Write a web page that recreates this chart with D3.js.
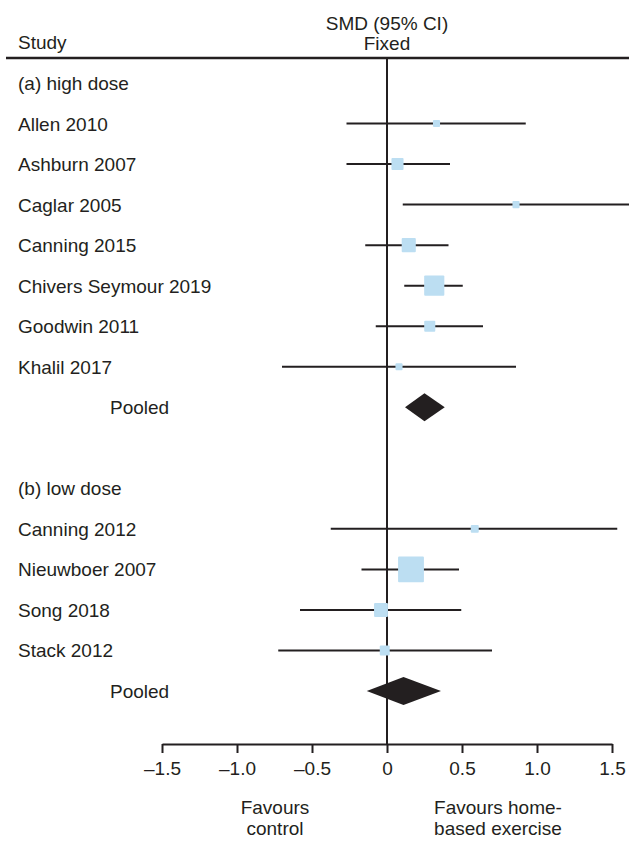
<!DOCTYPE html>
<html>
<head>
<meta charset="utf-8">
<script src="https://cdn.jsdelivr.net/npm/d3@7/dist/d3.min.js"></script>
<style>
  body { margin: 0; background: #fff; }
  svg { display: block; font-family: "Liberation Sans", Arial, sans-serif; }
  text { fill: #231f20; font-size: 19px; }
</style>
</head>
<body>
<div id="chart"></div>
<script>
// rows top to bottom: kind = header | study | pooled | blank
const rowLabels = ['(a) high dose', 'Allen 2010', 'Ashburn 2007', 'Caglar 2005', 'Canning 2015',
  'Chivers Seymour 2019', 'Goodwin 2011', 'Khalil 2017', 'Pooled', '',
  '(b) low dose', 'Canning 2012', 'Nieuwboer 2007', 'Song 2018', 'Stack 2012', 'Pooled'];
const rowKinds = ['header', 'study', 'study', 'study', 'study', 'study', 'study', 'study', 'pooled', 'blank',
  'header', 'study', 'study', 'study', 'study', 'pooled'];
const estimates = [null, 0.33, 0.07, 0.86, 0.145, 0.315, 0.285, 0.08, 0.25, null,
  null, 0.585, 0.16, -0.04, -0.015, 0.11];
const lowerCI = [null, -0.27, -0.27, 0.105, -0.145, 0.115, -0.075, -0.70, 0.12, null,
  null, -0.375, -0.17, -0.58, -0.725, -0.135];
const upperCI = [null, 0.925, 0.42, 1.65, 0.41, 0.505, 0.64, 0.86, 0.385, null,
  null, 1.535, 0.48, 0.495, 0.70, 0.36];
// study weight (%) within subgroup, sets box area
const weights = [null, 4.9, 14.3, 4.9, 19.4, 39.7, 12.0, 4.9, null, null,
  null, 6.2, 65.3, 18.9, 9.7, null];
const tickValues = [-1.5, -1.0, -0.5, 0, 0.5, 1.0, 1.5];
const tickLabels = ['–1.5', '–1.0', '–0.5', '0', '0.5', '1.0', '1.5'];

const width = 629, height = 841;
const ink = '#231f20', boxColor = '#bcdef2';

const rows = rowLabels.map((label, i) => ({
  i, label, kind: rowKinds[i], est: estimates[i], lo: lowerCI[i], hi: upperCI[i], w: weights[i]
}));

const svg = d3.select('#chart').append('svg')
  .attr('width', width)
  .attr('height', height);

const x = d3.scaleLinear().domain([-1.5, 1.5]).range([162, 612]);
const y = d3.scalePoint().domain(rows.map(d => d.i)).range([83, 691]);
const boxSize = d3.scaleSqrt().domain([0, 100]).range([0, 32]);
const axisY = 744;

// header
svg.append('text').attr('x', 18).attr('y', 49).text('Study');
svg.append('text').attr('x', x(0)).attr('y', 30).attr('text-anchor', 'middle').text('SMD (95% CI)');
svg.append('text').attr('x', x(0)).attr('y', 50).attr('text-anchor', 'middle').text('Fixed');
svg.append('line')
  .attr('x1', 6).attr('x2', width)
  .attr('y1', 58).attr('y2', 58)
  .attr('stroke', ink).attr('stroke-width', 2.5);

// zero line
svg.append('line')
  .attr('x1', x(0)).attr('x2', x(0))
  .attr('y1', 58).attr('y2', axisY)
  .attr('stroke', ink).attr('stroke-width', 2);

// row labels
svg.selectAll('.label')
  .data(rows.filter(d => d.kind !== 'blank'))
  .enter()
  .append('text')
  .attr('class', 'label')
  .attr('x', d => d.kind === 'pooled' ? 110 : 18)
  .attr('y', d => y(d.i) + 7)
  .text(d => d.label);

const studies = rows.filter(d => d.kind === 'study');

// confidence intervals
svg.selectAll('.ci')
  .data(studies)
  .enter()
  .append('line')
  .attr('class', 'ci')
  .attr('x1', d => x(d.lo))
  .attr('x2', d => x(d.hi))
  .attr('y1', d => y(d.i))
  .attr('y2', d => y(d.i))
  .attr('stroke', ink)
  .attr('stroke-width', 2);

// weighted boxes
svg.selectAll('.box')
  .data(studies)
  .enter()
  .append('rect')
  .attr('class', 'box')
  .attr('x', d => x(d.est) - boxSize(d.w) / 2)
  .attr('y', d => y(d.i) - boxSize(d.w) / 2)
  .attr('width', d => boxSize(d.w))
  .attr('height', d => boxSize(d.w))
  .attr('rx', 1)
  .attr('fill', boxColor);

// pooled diamonds
svg.selectAll('.diamond')
  .data(rows.filter(d => d.kind === 'pooled'))
  .enter()
  .append('path')
  .attr('class', 'diamond')
  .attr('d', d => {
    const cy = y(d.i), h = 14;
    return `M${x(d.lo)},${cy}L${x(d.est)},${cy - h}L${x(d.hi)},${cy}L${x(d.est)},${cy + h}Z`;
  })
  .attr('fill', ink);

// x axis
const axis = svg.append('g')
  .attr('transform', `translate(0,${axisY})`)
  .call(d3.axisBottom(x)
    .tickValues(tickValues)
    .tickFormat((d, i) => tickLabels[i])
    .tickSize(9)
    .tickSizeOuter(0)
    .tickPadding(9));
axis.select('.domain').attr('stroke', ink).attr('stroke-width', 2);
axis.selectAll('.tick line').attr('stroke', ink).attr('stroke-width', 2);
axis.selectAll('.tick text')
  .attr('fill', ink)
  .style('font-size', '19px')
  .style('font-family', '"Liberation Sans", Arial, sans-serif');

// favours labels
const favours = [
  { cx: 275, lines: ['Favours', 'control'] },
  { cx: 498, lines: ['Favours home-', 'based exercise'] }
];
favours.forEach(f => {
  f.lines.forEach((t, k) => {
    svg.append('text')
      .attr('x', f.cx)
      .attr('y', 814 + k * 21)
      .attr('text-anchor', 'middle')
      .text(t);
  });
});
</script>
</body>
</html>
